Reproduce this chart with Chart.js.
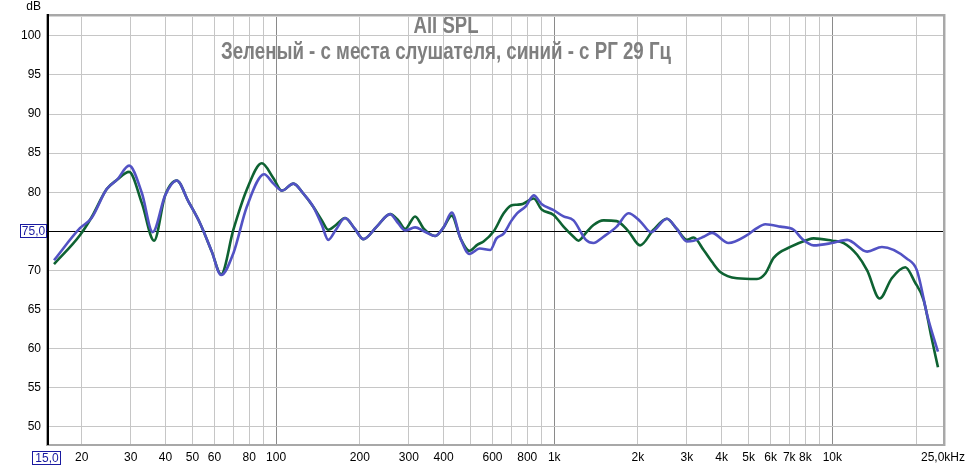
<!DOCTYPE html>
<html>
<head>
<meta charset="utf-8">
<script src="https://cdn.jsdelivr.net/npm/chart.js@4/dist/chart.umd.min.js"></script>
<style>
html,body{margin:0;padding:0;background:#fff;}
#wrap{width:966px;height:467px;position:relative;}
</style>
</head>
<body>
<div id="wrap"><canvas id="c" width="966" height="467"></canvas></div>
<script>
// ---- data ----
const titleLine1 = "All SPL";
const titleLine2 = "Зеленый - с места слушателя, синий - с РГ 29 Гц";

const greenFreq = [15.9, 19.7, 21.7, 24.6, 26.8, 29.6, 32.9, 36.4, 39.9, 43.9,
  48.4, 53.3, 58.7, 63.4, 70.2, 78.4, 88.8, 97.8, 104.8, 115.4,
  125.4, 136.2, 146, 154, 164, 177, 192, 206, 230, 257,
  275, 291, 316, 340, 373, 400, 428, 460, 495, 530,
  557, 606, 658, 700, 735, 770, 844, 900, 995, 1080,
  1173, 1222, 1300, 1384, 1503, 1677, 1849, 2036, 2275, 2542,
  2760, 3000, 3170, 3445, 3690, 3954, 4540, 5357, 5742, 6150,
  7063, 8110, 8570, 9977, 10990, 12280, 13340, 14800, 16360, 18300,
  19800, 21300, 22700, 23980];
const greenDb = [70.8, 74.5, 76.8, 80.4, 81.6, 82.6, 78.6, 73.8, 79.6, 81.5,
  78.8, 76.0, 72.4, 69.5, 75.2, 80.3, 83.7, 81.8, 80.2, 81.1,
  79.8, 78.1, 76.4, 75.2, 75.8, 76.7, 75.3, 74.0, 75.6, 77.2,
  76.4, 75.3, 76.9, 75.3, 74.4, 75.5, 77.0, 74.1, 72.5, 73.3,
  73.7, 75.0, 77.3, 78.3, 78.4, 78.5, 79.2, 77.8, 77.1, 75.6,
  74.3, 73.8, 74.8, 75.8, 76.4, 76.3, 75.0, 73.2, 75.2, 76.6,
  75.3, 73.9, 74.2, 72.6, 71.1, 69.8, 69.0, 68.9, 69.6, 71.6,
  73.0, 73.9, 74.1, 73.8, 73.5, 72.0, 70.0, 66.4, 69.0, 70.4,
  68.5, 66.2, 61.5, 57.6];

const blueFreq = [15.9, 19.7, 21.7, 24.6, 26.8, 29.6, 32.9, 36.0, 39.9, 43.9,
  48.4, 53.3, 58.7, 63.4, 70.2, 78.4, 90.5, 97.8, 104.8, 115.4,
  125.4, 136.2, 146, 154, 164, 177, 192, 206, 230, 257,
  275, 291, 316, 340, 373, 400, 428, 460, 495, 540,
  589, 620, 658, 700, 735, 790, 844, 900, 995, 1080,
  1173, 1300, 1384, 1503, 1677, 1849, 2036, 2230, 2542, 2760,
  3000, 3170, 3445, 3690, 4236, 4933, 5300, 5742, 6500, 7260,
  7800, 8570, 9977, 11300, 13340, 15080, 18550, 20140, 22000, 23980];
const blueDb = [71.3, 75.4, 76.7, 80.4, 81.6, 83.4, 79.9, 74.9, 79.6, 81.5,
  78.8, 76.0, 72.4, 69.4, 72.2, 78.1, 82.3, 81.1, 80.2, 81.1,
  79.8, 78.1, 75.8, 73.9, 75.2, 76.7, 75.3, 74.0, 75.6, 77.2,
  76.0, 75.1, 75.5, 75.0, 74.4, 75.5, 77.4, 74.1, 72.1, 72.8,
  72.6, 74.1, 74.7, 76.3, 77.3, 78.2, 79.6, 78.5, 77.7, 76.9,
  76.4, 73.9, 73.5, 74.3, 75.6, 77.3, 76.3, 74.9, 76.6, 75.3,
  73.7, 73.8, 74.3, 74.8, 73.5, 74.5, 75.3, 75.9, 75.6, 75.2,
  74.0, 73.2, 73.5, 73.9, 72.4, 73.0, 71.5, 70.0, 64.1, 59.6];

const xGridValues = [15, 20, 30, 40, 50, 60, 70, 80, 90, 100,
  200, 300, 400, 500, 600, 700, 800, 900, 1000,
  2000, 3000, 4000, 5000, 6000, 7000, 8000, 9000, 10000, 20000, 25000];
const xTickLabels = {20:'20',30:'30',40:'40',50:'50',60:'60',80:'80',100:'100',
  200:'200',300:'300',400:'400',600:'600',800:'800',1000:'1k',
  2000:'2k',3000:'3k',4000:'4k',5000:'5k',6000:'6k',7000:'7k',8000:'8k',10000:'10k',25000:'25,0kHz'};
const yTickValues = [50, 55, 60, 65, 70, 75, 80, 85, 90, 95, 100];
const refLevel = 75;
const refLabel = '75,0';
const xStartLabel = '15,0';
const yUnit = 'dB';

const toXY = (f, d) => f.map((v, i) => ({x: v, y: d[i]}));
const decades = [100, 1000, 10000];

const overlay = {
  id: 'overlay',
  beforeDatasetsDraw(chart) {
    const ctx = chart.ctx;
    ctx.save();
    ctx.fillStyle = '#7f7f7f';
    ctx.textBaseline = 'alphabetic';
    ctx.textAlign = 'left';
    const drawScaled = (txt, cx, base, target) => {
      ctx.font = 'bold 24px "Liberation Sans", Arial, sans-serif';
      const w = ctx.measureText(txt).width;
      const s = target / w;
      ctx.save();
      ctx.translate(cx - target / 2, base);
      ctx.scale(s, 1);
      ctx.fillText(txt, 0, 0);
      ctx.restore();
    };
    drawScaled(titleLine1, 446, 33, 65);
    drawScaled(titleLine2, 446, 59, 450);
    ctx.restore();
  },
  afterDraw(chart) {
    const ctx = chart.ctx;
    const a = chart.chartArea;
    ctx.save();
    // frame
    ctx.strokeStyle = '#d6d6d6';
    ctx.lineWidth = 1;
    ctx.beginPath();
    ctx.moveTo(a.right + 2.5, a.top); ctx.lineTo(a.right + 2.5, a.bottom + 1);
    ctx.moveTo(a.left, a.top + 2.5); ctx.lineTo(a.right, a.top + 2.5);
    ctx.stroke();
    ctx.strokeStyle = '#a8a8a8';
    ctx.lineWidth = 2;
    ctx.strokeRect(a.left, a.top + 1, a.right - a.left + 1, a.bottom - a.top - 1);
    ctx.strokeStyle = '#000';
    ctx.beginPath();
    ctx.moveTo(a.left + 1, a.top); ctx.lineTo(a.left + 1, a.bottom);
    ctx.stroke();
    // reference box on y axis
    const yy = chart.scales.y.getPixelForValue(refLevel);
    ctx.font = '12px "Liberation Sans", Arial, sans-serif';
    ctx.textAlign = 'center';
    ctx.textBaseline = 'middle';
    ctx.fillStyle = '#fff';
    ctx.fillRect(20, Math.round(yy) - 7, 26, 13);
    ctx.strokeStyle = '#1a1aa0';
    ctx.lineWidth = 1;
    ctx.strokeRect(20.5, Math.round(yy) - 6.5, 26, 13);
    ctx.fillStyle = '#1a1aa0';
    ctx.fillText(refLabel, 33.5, yy + 0.5);
    ctx.strokeStyle = '#000';
    ctx.beginPath(); ctx.moveTo(46.5, Math.round(yy) + 0.5); ctx.lineTo(a.left, Math.round(yy) + 0.5); ctx.stroke();
    // start box on x axis
    const xx = chart.scales.x.getPixelForValue(15);
    ctx.strokeStyle = '#1a1aa0';
    ctx.strokeRect(Math.round(xx) - 14.5, 451.5, 28, 13);
    ctx.fillText(xStartLabel, xx, 458.5);
    // unit
    ctx.fillStyle = '#000';
    ctx.textAlign = 'right';
    ctx.textBaseline = 'alphabetic';
    ctx.fillText(yUnit, 41, 10);
    ctx.restore();
  }
};

new Chart(document.getElementById('c'), {
  type: 'line',
  data: {
    datasets: [
      {
        label: 'синий',
        data: toXY(blueFreq, blueDb),
        borderColor: '#5252c4',
        borderWidth: 2.6,
        pointRadius: 0,
        cubicInterpolationMode: 'monotone',
        order: 0
      },
      {
        label: 'зеленый',
        data: toXY(greenFreq, greenDb),
        borderColor: '#0e6232',
        borderWidth: 2.6,
        pointRadius: 0,
        cubicInterpolationMode: 'monotone',
        order: 1
      }
    ]
  },
  options: {
    responsive: false,
    animation: false,
    events: [],
    layout: {padding: {top: 14, right: 23, left: 0, bottom: 0}},
    plugins: {legend: {display: false}, tooltip: {enabled: false}, title: {display: false}},
    scales: {
      x: {
        type: 'logarithmic',
        min: 15,
        max: 25000,
        afterBuildTicks: (s) => { s.ticks = xGridValues.map(v => ({value: v})); },
        afterFit: (s) => { s.height = 22; s.paddingLeft = 0; s.paddingRight = 0; },
        border: {display: false},
        grid: {
          drawTicks: false,
          color: (c) => (c.tick && decades.includes(c.tick.value)) ? '#8a8a8a' : '#c6c6c6',
          lineWidth: 1
        },
        ticks: {
          autoSkip: false,
          maxRotation: 0,
          padding: 5,
          color: '#000',
          font: {family: '"Liberation Sans", Arial, sans-serif', size: 12},
          callback: (v) => xTickLabels[v] || ''
        }
      },
      y: {
        type: 'linear',
        min: 47.66,
        max: 102.8,
        afterBuildTicks: (s) => { s.ticks = yTickValues.map(v => ({value: v})); },
        afterFit: (s) => { s.width = 47; s.paddingTop = 0; s.paddingBottom = 0; },
        border: {display: false},
        grid: {
          drawTicks: false,
          color: (c) => (c.tick && c.tick.value === refLevel) ? '#000' : '#c6c6c6',
          lineWidth: 1
        },
        ticks: {
          padding: 6,
          color: '#000',
          font: {family: '"Liberation Sans", Arial, sans-serif', size: 12},
          callback: (v) => v === refLevel ? '' : String(v)
        }
      }
    }
  },
  plugins: [overlay]
});
</script>
</body>
</html>
